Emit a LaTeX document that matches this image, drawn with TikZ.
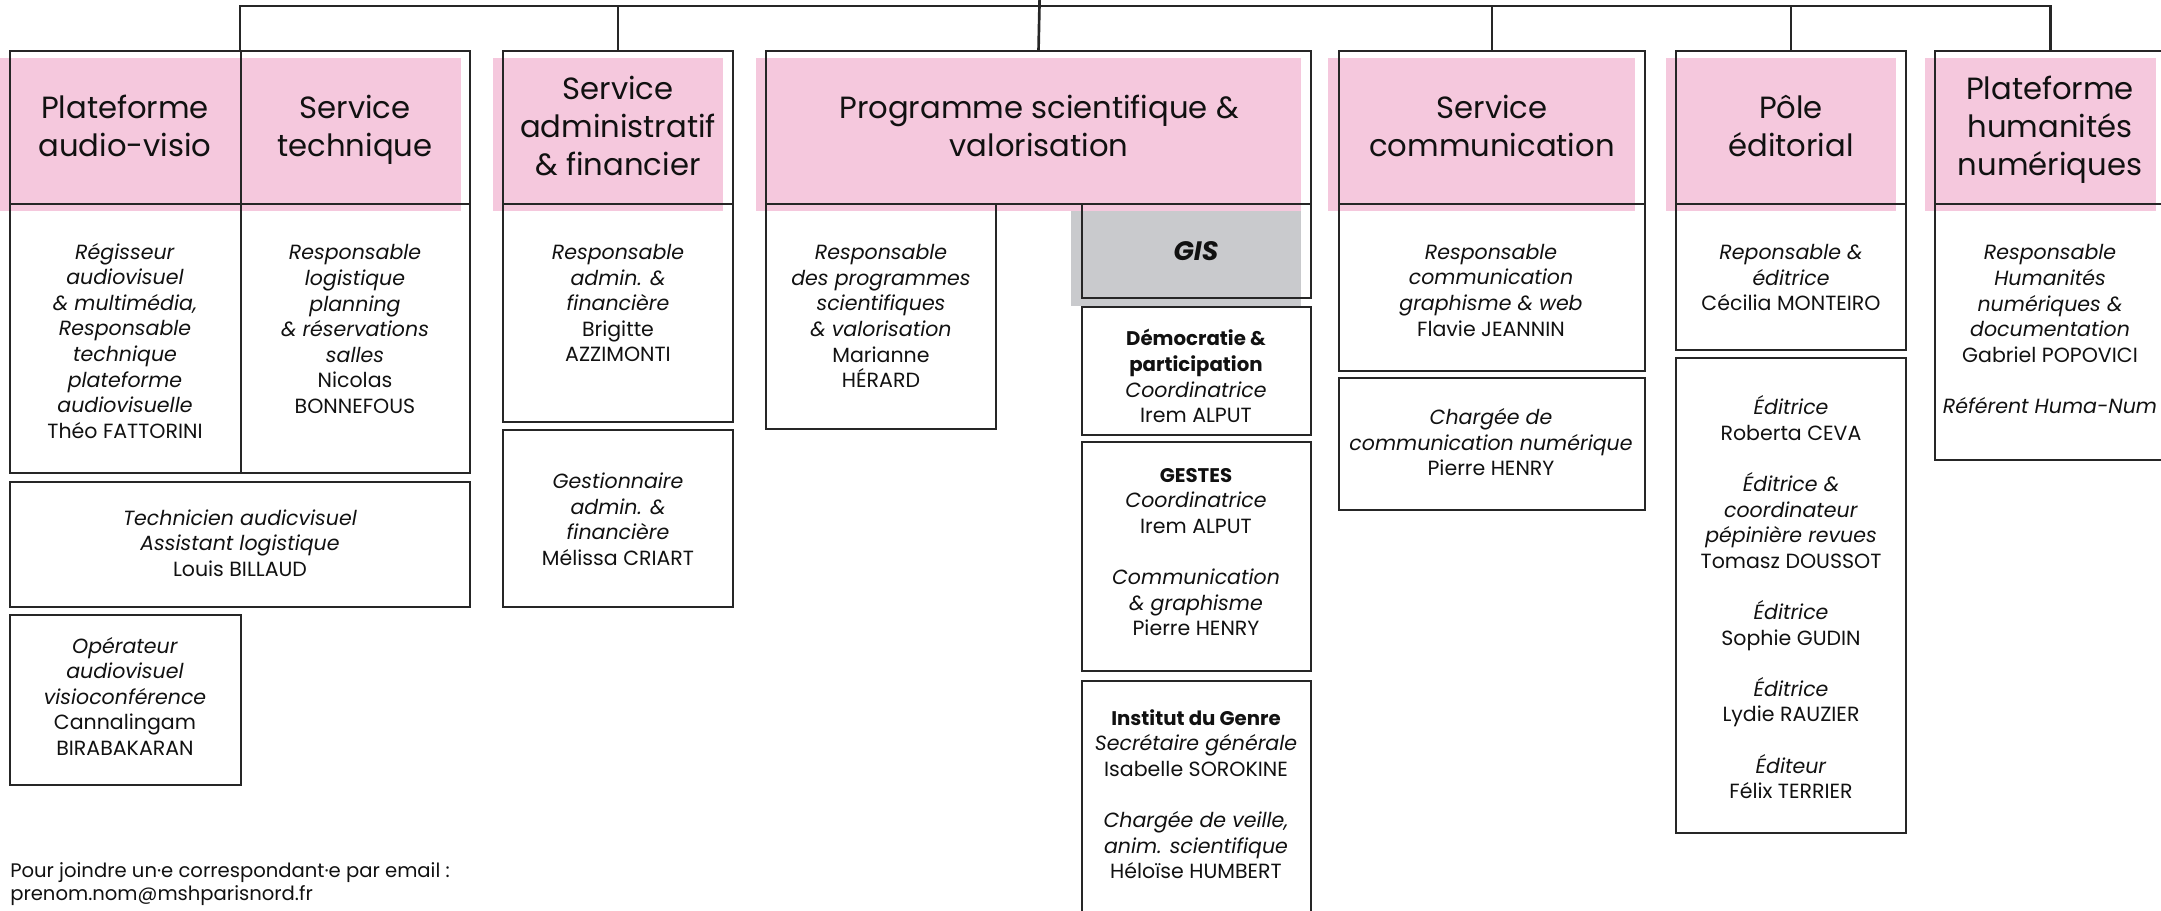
\documentclass[tikz,border=0pt]{standalone}
\usepackage{fontspec}
\setmainfont{Poppins}
\usetikzlibrary{fit}
\definecolor{linec}{HTML}{262626}
\definecolor{pinkc}{HTML}{F5C8DD}
\definecolor{grayc}{HTML}{C9CACD}
\definecolor{txtc}{HTML}{111111}
\newcommand\rl[1]{\textit{#1}}
\newcommand\bt[1]{{\fontsize{14.8pt}{19.2pt}\selectfont\bfseries #1}}
\newcommand\gp{\\[19.2pt]}
\begin{document}
\begin{tikzpicture}[x=0.75pt,y=-0.75pt,
  ln/.style={draw=linec,line width=2pt},
  box/.style={draw=linec,line width=2pt,inner sep=0pt,outer sep=0pt},
  hd/.style={font=\fontsize{23pt}{28.5pt}\selectfont,align=center,text=txtc,inner sep=0pt,yshift=-3pt,
    execute at begin node=\strut,execute at end node=\strut},
  bd/.style={font=\fontsize{15.4pt}{19.2pt}\selectfont,align=center,text=txtc,inner sep=0pt,yshift=-3pt,
    execute at begin node=\strut,execute at end node=\strut},
  ft/.style={font=\fontsize{14.7pt}{17.6pt}\selectfont,align=left,text=txtc,inner sep=0pt,anchor=west}]
\useasboundingbox (0,0) rectangle (2161,910);
% pink header bands and grey band
\fill[pinkc] (0,58) rectangle (461,211);
\fill[pinkc] (493,58) rectangle (723,211);
\fill[pinkc] (756,58) rectangle (1301,211);
\fill[pinkc] (1328,58) rectangle (1635,211);
\fill[pinkc] (1666,58) rectangle (1896,211);
\fill[pinkc] (1925,58) rectangle (2156,211);
\fill[grayc] (1071,211) rectangle (1301,306);
% group boxes
\node[box,fit={(10,51) (470,473)}] (gA) {};
\node[box,fit={(503,51) (733,422)}] (gB) {};
\node[box,fit={(766,51) (1311,204)}] (gC) {};
\node[box,fit={(1339,51) (1645,371)}] (gD) {};
\node[box,fit={(1676,51) (1906,350)}] (gE) {};
\node[box,fit={(1935,51) (2166,460)}] (gF) {};
% header separators and divider
\draw[ln] (10,204) -- (470,204);
\draw[ln] (241,51) -- (241,473);
\draw[ln] (503,204) -- (733,204);
\draw[ln] (1339,204) -- (1645,204);
\draw[ln] (1676,204) -- (1906,204);
\draw[ln] (1935,204) -- (2166,204);
% sub boxes
\node[box,fit={(10,482) (470,607)}] (bTech) {};
\node[box,fit={(10,615) (241,785)}] (bOper) {};
\node[box,fit={(503,430) (733,607)}] (bGest) {};
\node[box,fit={(766,204) (996,429)}] (bProg) {};
\node[box,fit={(1082,204) (1311,298)}] (bGIS) {};
\node[box,fit={(1082,307) (1311,435)}] (bDemo) {};
\node[box,fit={(1082,442) (1311,671)}] (bGestes) {};
\draw[ln] (1082,920) -- (1082,681) -- (1311,681) -- (1311,920);
\node[box,fit={(1339,378) (1645,510)}] (bChar) {};
\node[box,fit={(1676,358) (1906,833)}] (bEdit) {};
% connectors
\coordinate (root) at (1040,-20);
\coordinate (bar) at (1040,6);
\draw[ln] (root) -- (gC.north);
\draw[ln] (gA.north) |- (bar) -| (gF.north);
\draw[ln] (gB.north) -- (gB.north |- bar);
\draw[ln] (gD.north) -- (gD.north |- bar);
\draw[ln] (gE.north) -- (gE.north |- bar);
% headers
\node[hd] (hA1) at (125,127.5) {Plateforme\\audio-visio};
\node[hd] (hA2) at (355,127.5) {Service\\technique};
\node[hd] (hB) at (618,127.5) {Service\\administratif\\\& financier};
\node[hd] (hC) at (1039,127.5) {Programme scientifique \&\\valorisation};
\node[hd] (hD) at (1492,127.5) {Service\\communication};
\node[hd] (hE) at (1791,127.5) {Pôle\\éditorial};
\node[hd] (hF) at (2050,127.5) {Plateforme\\humanités\\numériques};
% bodies
\node[bd] (tA1) at (125,340.5) {\rl{Régisseur}\\\rl{audiovisuel}\\\rl{\& multimédia,}\\\rl{Responsable}\\\rl{technique}\\\rl{plateforme}\\\rl{audiovisuelle}\\Théo FATTORINI};
\node[bd] (tA2) at (355,329) {\rl{Responsable}\\\rl{logistique}\\\rl{planning}\\\rl{\& réservations}\\\rl{salles}\\Nicolas\\BONNEFOUS};
\node[bd] (tTech) at (240,543) {\rl{Technicien audicvisuel}\\\rl{Assistant logistique}\\Louis BILLAUD};
\node[bd] (tOper) at (125,696) {\rl{Opérateur}\\\rl{audiovisuel}\\\rl{visioconférence}\\Cannalingam\\BIRABAKARAN};
\node[bd] (tB) at (618,303) {\rl{Responsable}\\\rl{admin. \&}\\\rl{financière}\\Brigitte\\AZZIMONTI};
\node[bd] (tGest) at (618,519) {\rl{Gestionnaire}\\\rl{admin. \&}\\\rl{financière}\\Mélissa CRIART};
\node[bd] (tProg) at (881,316) {\rl{Responsable}\\\rl{des programmes}\\\rl{scientifiques}\\\rl{\& valorisation}\\Marianne\\HÉRARD};
\node[bd,font=\fontsize{20pt}{22pt}\selectfont\bfseries\itshape] (tGIS) at (1196,251) {GIS};
\node[bd] (tDemo) at (1196,376) {\bt{Démocratie \&}\\\bt{participation}\\\rl{Coordinatrice}\\Irem ALPUT};
\node[bd] (tGestes) at (1196,552) {\bt{GESTES}\\\rl{Coordinatrice}\\Irem ALPUT\gp\rl{Communication}\\\rl{\& graphisme}\\Pierre HENRY};
\node[bd] (tInst) at (1196,794) {\bt{Institut du Genre}\\\rl{Secrétaire générale}\\Isabelle SOROKINE\gp\rl{Chargée de veille,}\\\rl{anim. scientifique}\\Héloïse HUMBERT};
\node[bd] (tD) at (1491,290) {\rl{Responsable}\\\rl{communication}\\\rl{graphisme \& web}\\Flavie JEANNIN};
\node[bd] (tChar) at (1491,442) {\rl{Chargée de}\\\rl{communication numérique}\\Pierre HENRY};
\node[bd] (tE) at (1791,277.6) {\rl{Reponsable \&}\\\rl{éditrice}\\Cécilia MONTEIRO};
\node[bd] (tEdit) at (1791,597) {\rl{Éditrice}\\Roberta CEVA\gp\rl{Éditrice \&}\\\rl{coordinateur}\\\rl{pépinière revues}\\Tomasz DOUSSOT\gp\rl{Éditrice}\\Sophie GUDIN\gp\rl{Éditrice}\\Lydie RAUZIER\gp\rl{Éditeur}\\Félix TERRIER};
\node[bd] (tF) at (2050,329) {\rl{Responsable}\\\rl{Humanités}\\\rl{numériques \&}\\\rl{documentation}\\Gabriel POPOVICI\gp\rl{Référent Huma-Num}};
% footer
\node[ft] (foot) at (10,884) {Pour joindre un·e correspondant·e par email :\\prenom.nom@mshparisnord.fr};
\end{tikzpicture}
\end{document}
